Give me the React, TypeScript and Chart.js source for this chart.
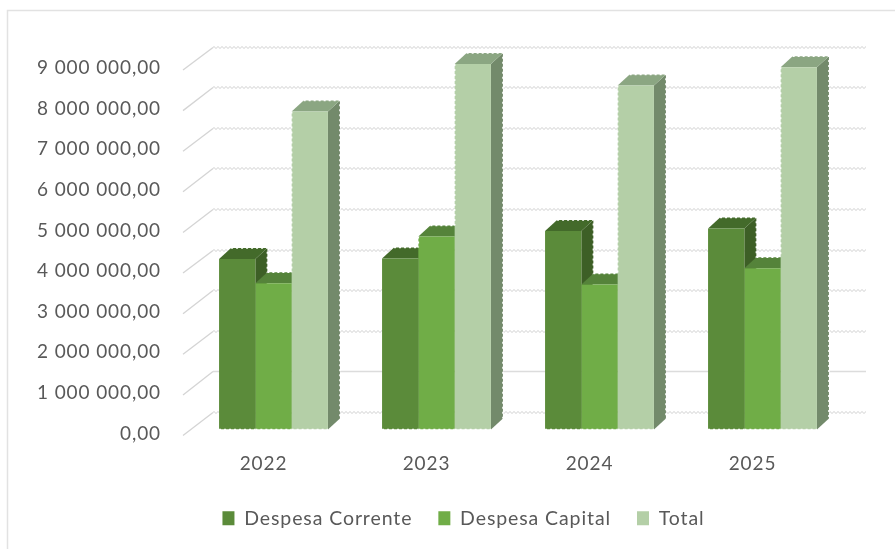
import React, { useEffect, useRef } from "react";
import { Chart, registerables } from "chart.js";

Chart.register(...registerables);

const categories = ["2022", "2023", "2024", "2025"];
const despesaCorrente = [4200000, 4210000, 4890000, 4950000];
const despesaCapital = [3600000, 4750000, 3570000, 3970000];
const total = [7830000, 9000000, 8470000, 8920000];

const frontColors = ["#5b8b3a", "#70ad47", "#b4cfa7"];
const topColors = ["#436a2a", "#55833a", "#8ba682"];
const sideColors = ["#3d5f26", "#4a7330", "#738a6b"];
const DX = 12;
const DY = 11;

const fontFamily = "Lato, 'Open Sans', sans-serif";

function fmt(v: number): string {
  const s = Math.round(v).toString().replace(/\B(?=(\d{3})+(?!\d))/g, " ");
  return s + ",00";
}

const spacingPlugin = {
  id: "spacing",
  beforeUpdate(chart: any) {
    chart.ctx.letterSpacing = "0.9px";
  },
  beforeDraw(chart: any) {
    chart.ctx.letterSpacing = "0.9px";
  },
};

const wallPlugin = {
  id: "wall",
  beforeDatasetsDraw(chart: any) {
    const { ctx, chartArea, scales } = chart;
    const y = scales.y;
    const xL = chartArea.left - 9;
    const xW = chartArea.left + 21;
    const xR = chartArea.right + 22;
    ctx.save();
    y.ticks.forEach((t: any, i: number) => {
      const py = y.getPixelForTick(i);
      const wy = Math.round(py - 17.5) + 0.5;
      const solid = t.value === 1000000;
      // side wall
      ctx.strokeStyle = "#d4d4d4";
      ctx.lineWidth = 1.3;
      ctx.setLineDash([]);
      ctx.beginPath();
      ctx.moveTo(xL, py + 6);
      ctx.lineTo(xW, wy);
      ctx.stroke();
      // back wall
      if (solid) {
        ctx.strokeStyle = "#dcdcdc";
        ctx.lineWidth = 1.5;
        ctx.beginPath();
        ctx.moveTo(xW, wy);
        ctx.lineTo(xR, wy);
        ctx.stroke();
      } else {
        ctx.strokeStyle = "#d2d2d2";
        ctx.lineWidth = 1;
        ctx.setLineDash([2, 2]);
        ctx.beginPath();
        ctx.moveTo(xW, wy - 0.5);
        ctx.lineTo(xR, wy - 0.5);
        ctx.stroke();
        ctx.lineDashOffset = 2;
        ctx.beginPath();
        ctx.moveTo(xW, wy + 0.5);
        ctx.lineTo(xR, wy + 0.5);
        ctx.stroke();
        ctx.lineDashOffset = 0;
      }
    });
    ctx.setLineDash([]);

    // top and side faces of the bars, category by category
    for (let c = 0; c < categories.length; c++) {
      for (let d = 0; d < chart.data.datasets.length; d++) {
        const b = chart.getDatasetMeta(d).data[c];
        const x0 = b.x - b.width / 2;
        const x1 = b.x + b.width / 2;
        const top = b.y;
        const bot = b.base;
        ctx.fillStyle = sideColors[d];
        ctx.beginPath();
        ctx.moveTo(x1, top);
        ctx.lineTo(x1 + DX, top - DY);
        ctx.lineTo(x1 + DX, bot - DY);
        ctx.lineTo(x1, bot);
        ctx.closePath();
        ctx.fill();
        ctx.fillStyle = topColors[d];
        ctx.beginPath();
        ctx.moveTo(x0, top);
        ctx.lineTo(x0 + DX, top - DY);
        ctx.lineTo(x1 + DX, top - DY);
        ctx.lineTo(x1, top);
        ctx.closePath();
        ctx.fill();
        // dotted white outline of the silhouette
        ctx.strokeStyle = "#ffffff";
        ctx.lineWidth = 1.5;
        ctx.setLineDash([2, 3]);
        ctx.beginPath();
        ctx.moveTo(x0 + DX, top - DY);
        ctx.lineTo(x1 + DX, top - DY);
        ctx.lineTo(x1 + DX, bot - DY);
        ctx.stroke();
        ctx.setLineDash([]);
      }
    }
    ctx.restore();
  },
  afterDatasetsDraw(chart: any) {
    const { ctx } = chart;
    ctx.save();
    ctx.strokeStyle = "#ffffff";
    ctx.lineWidth = 1.5;
    ctx.setLineDash([2, 3]);
    for (let c = 0; c < categories.length; c++) {
      for (let d = 0; d < chart.data.datasets.length; d++) {
        const b = chart.getDatasetMeta(d).data[c];
        const x0 = b.x - b.width / 2;
        const x1 = b.x + b.width / 2;
        ctx.beginPath();
        ctx.moveTo(x0, b.base);
        ctx.lineTo(x1, b.base);
        ctx.stroke();
        if (d > 0) {
          const prev = chart.getDatasetMeta(d - 1).data[c];
          if (b.y < prev.y) {
            ctx.beginPath();
            ctx.moveTo(x0, b.y);
            ctx.lineTo(x0, prev.y - DY);
            ctx.stroke();
          }
        }
      }
    }
    ctx.restore();
  },
};

const framePlugin = {
  id: "frame",
  beforeDraw(chart: any) {
    const { ctx, width, height } = chart;
    ctx.save();
    ctx.fillStyle = "#ffffff";
    ctx.fillRect(0, 0, width, height);
    ctx.strokeStyle = "#e2e2e2";
    ctx.lineWidth = 1.5;
    ctx.beginPath();
    ctx.moveTo(7.5, height);
    ctx.lineTo(7.5, 10.5);
    ctx.lineTo(width, 10.5);
    ctx.stroke();
    ctx.restore();
  },
};

export default function App() {
  const ref = useRef<HTMLCanvasElement | null>(null);
  useEffect(() => {
    const canvas = ref.current;
    if (!canvas) return;
    const chart = new Chart(canvas, {
      type: "bar",
      data: {
        labels: categories,
        datasets: [
          { label: "Despesa Corrente", data: despesaCorrente, backgroundColor: frontColors[0] },
          { label: "Despesa Capital", data: despesaCapital, backgroundColor: frontColors[1] },
          { label: "Total", data: total, backgroundColor: frontColors[2] },
        ],
      },
      plugins: [spacingPlugin, framePlugin, wallPlugin],
      options: {
        responsive: false,
        animation: false,
        layout: { padding: { left: 83, right: 51, top: 64, bottom: 11 } },
        datasets: { bar: { categoryPercentage: 0.668, barPercentage: 1 } },
        plugins: {
          title: { display: false },
          tooltip: { enabled: false },
          legend: {
            position: "bottom",
            labels: {
              color: "#595959",
              font: { family: fontFamily, size: 19.5 },
              boxWidth: 12,
              boxHeight: 14,
              padding: 26,
            },
          },
        },
        scales: {
          x: {
            grid: { display: false, drawTicks: false },
            border: { display: false },
            afterFit(s: any) {
              s.height = 53;
            },
            ticks: {
              color: "#595959",
              font: { family: fontFamily, size: 19 },
              padding: 23,
              labelOffset: -10,
              maxRotation: 0,
            },
          },
          y: {
            min: 0,
            max: 9000000,
            grid: { display: false, drawTicks: false },
            border: { display: false },
            afterFit(s: any) {
              s.width = 109;
              // tick labels stand left of the axis box: no clipping to that box
              s._computeLabelArea = () => undefined;
            },
            ticks: {
              stepSize: 1000000,
              color: "#595959",
              font: { family: fontFamily, size: 19 },
              padding: 31,
              labelOffset: 4,
              callback: (v: any) => fmt(Number(v)),
            },
          },
        },
      },
    } as any);
    return () => chart.destroy();
  }, []);
  return (
    <canvas
      ref={ref}
      width={895}
      height={549}
      style={{ position: "absolute", left: 0, top: 0, width: 895, height: 549, display: "block" }}
    />
  );
}
